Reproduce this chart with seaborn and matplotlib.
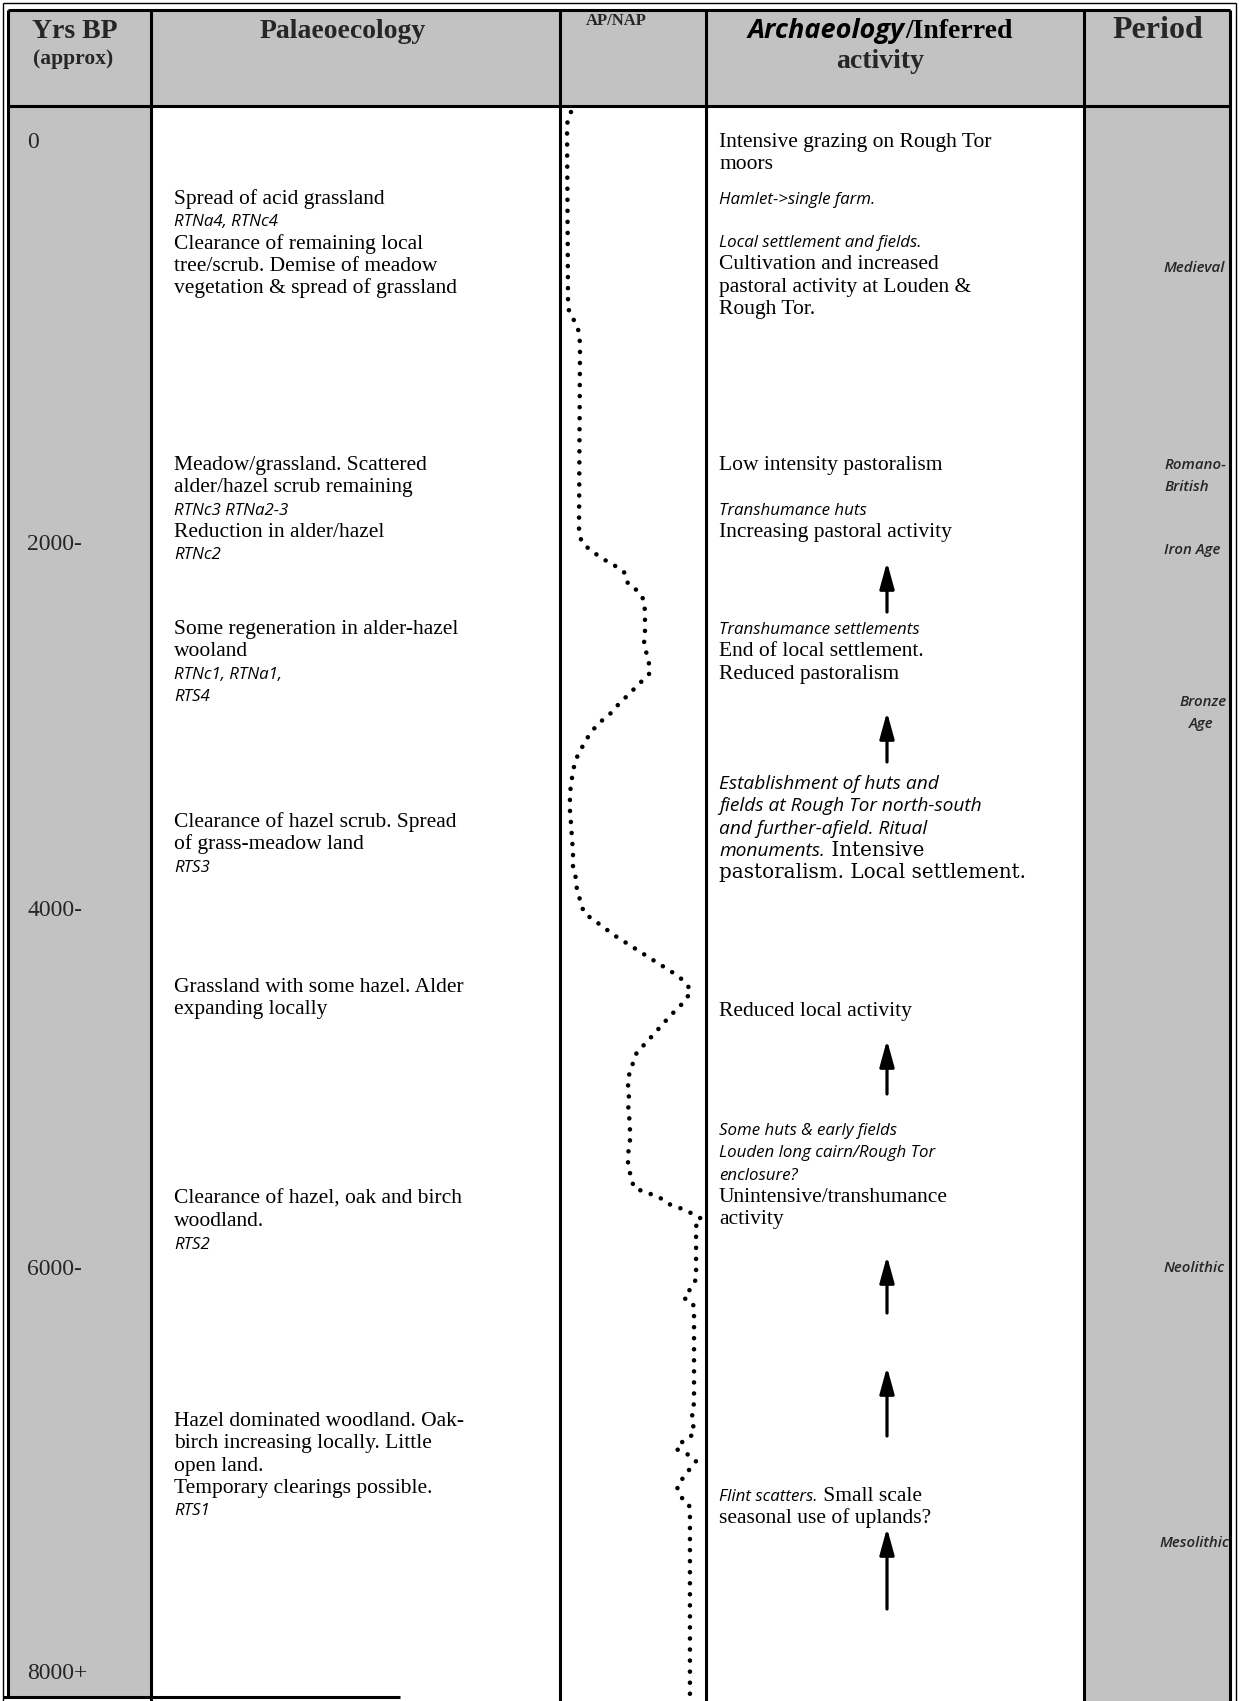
import matplotlib
matplotlib.use("Agg")
import matplotlib.pyplot as plt
import seaborn as sns
import pandas as pd

# ---------------------------------------------------------------- data
year_labels = ["0", "2000-", "4000-", "6000-", "8000+"]

period_labels = ["Medieval", "Romano-", "British", "Iron Age", "Bronze", "Age",
                 "Neolithic", "Mesolithic"]

# each line = list of (text, style) runs ; r = roman (serif), i = italic (sans)
palaeo_blocks = [
    [[("Spread of acid grassland", "r")],
     [("RTNa4, RTNc4", "i")],
     [("Clearance of remaining local", "r")],
     [("tree/scrub. Demise of meadow", "r")],
     [("vegetation & spread of grassland", "r")]],
    [[("Meadow/grassland. Scattered", "r")],
     [("alder/hazel scrub remaining", "r")],
     [("RTNc3 RTNa2-3", "i")],
     [("Reduction in alder/hazel", "r")],
     [("RTNc2", "i")]],
    [[("Some regeneration in alder-hazel", "r")],
     [("wooland", "r")],
     [("RTNc1, RTNa1,", "i")],
     [("RTS4", "i")]],
    [[("Clearance of hazel scrub. Spread", "r")],
     [("of grass-meadow land", "r")],
     [("RTS3", "i")]],
    [[("Grassland with some hazel. Alder", "r")],
     [("expanding locally", "r")]],
    [[("Clearance of hazel, oak and birch", "r")],
     [("woodland.", "r")],
     [("RTS2", "i")]],
    [[("Hazel dominated woodland. Oak-", "r")],
     [("birch increasing locally. Little", "r")],
     [("open land.", "r")],
     [("Temporary clearings possible.", "r")],
     [("RTS1", "i")]],
]

arch_blocks = [
    [[("Intensive grazing on Rough Tor", "r")],
     [("moors", "r")]],
    [[("Hamlet->single farm.", "i")]],
    [[("Local settlement and fields.", "i")],
     [("Cultivation and increased", "r")],
     [("pastoral activity at Louden &", "r")],
     [("Rough Tor.", "r")]],
    [[("Low intensity pastoralism", "r")]],
    [[("Transhumance huts", "i")],
     [("Increasing pastoral activity", "r")]],
    [[("Transhumance settlements", "i")],
     [("End of local settlement.", "r")],
     [("Reduced pastoralism", "r")]],
    [[("Establishment of huts and", "i")],
     [("fields at Rough Tor north-south", "i")],
     [("and further-afield. Ritual", "i")],
     [("monuments.", "i"), (" Intensive", "r")],
     [("pastoralism. Local settlement.", "r")]],
    [[("Reduced local activity", "r")]],
    [[("Some huts & early fields", "i")],
     [("Louden long cairn/Rough Tor", "i")],
     [("enclosure?", "i")],
     [("Unintensive/transhumance", "r")],
     [("activity", "r")]],
    [[("Flint scatters.", "i"), (" Small scale", "r")],
     [("seasonal use of uplands?", "r")]],
]

# AP/NAP pollen curve: age (yrs BP) and AP/NAP value (0-100)
ap_years = [-190, -127, 803, 866, 919, 971, 1035, 2043, 2091, 2133, 2170, 2202,
            2244, 2302, 2339, 2387, 2450, 2561, 2619, 2677, 2724, 2772, 2814,
            2862, 2904, 2946, 2994, 3031, 3078, 3126, 3184, 3237, 3295, 3358,
            3421, 3495, 3564, 3643, 3717, 3791, 3860, 3918, 3986, 4039, 4081,
            4124, 4166, 4203, 4240, 4277, 4314, 4351, 4393, 4446, 4498, 4541,
            4583, 4636, 4683, 4725, 4773, 4815, 4847, 4894, 4952, 5021,
            5085, 5143, 5253, 5311, 5370, 5433, 5491, 5512, 5539, 5576,
            5597, 5623, 5655, 5692, 5972, 6019, 6072, 6098, 6140, 6626, 6679,
            6732, 6790, 6822, 6869, 6895, 6933, 6980, 7022, 7070, 7128, 7160,
            7218, 8180]
ap_values = [7.5, 4.8, 5.5, 6.2, 10.3, 13.0, 13.7, 13.0, 15.8, 22.6, 29.5, 37.0,
             44.5, 46.6, 53.4, 57.5, 58.2, 58.2, 57.5, 59.6, 61.0, 61.6, 56.2,
             50.0, 44.5, 39.0, 33.6, 27.4, 21.9, 17.8, 13.7, 10.3, 8.9, 7.5,
             6.8, 6.8, 7.5, 8.2, 8.9, 8.9, 11.0, 11.6, 14.4, 16.4, 24.0,
             31.5, 39.0, 46.6, 54.1, 61.6, 69.2, 76.7, 84.2, 89.7, 86.3, 80.8,
             75.3, 69.2, 63.7, 58.9, 52.7, 50.7, 49.3, 47.3, 46.6, 47.3,
             46.6, 47.9, 47.9, 46.6, 46.6, 48.6, 50.7, 58.2, 67.8, 74.7,
             82.2, 89.7, 97.3, 93.2, 93.2, 89.7, 84.9, 91.1, 91.8, 91.8, 90.4,
             91.1, 91.8, 84.9, 79.5, 87.0, 93.2, 88.4, 84.2, 80.1, 83.6, 88.4,
             89.0, 89.0]

# ---------------------------------------------------------------- layout
W, H = 1240, 1701
X_L_OUT, X_L = 3, 8
X_YRS, X_PAL, X_AP, X_ARCH, X_R, X_R_OUT = 151, 560, 706, 1084, 1230, 1236
Y_T_OUT, Y_T, Y_HDR, Y_B = 3, 10, 106, 1697
SHADE = "#c2c2c2"
LW = 2.2

SERIF = "Liberation Serif"
ITAL = "Open Sans"
SZ_R, SZ_I = 15.5, 12.2
SZ_H = 20

palaeo_starts = [197, 463, 627, 820, 985, 1197, 1419]
arch_starts = [140, 197, 240, 463, 508, 627, 782, 1009, 1128, 1494]
WIDE_ARCH = {6}
line_gap = 22.3
year_y = [140, 542, 908, 1267, 1671]
period_pos = [(1164, 266), (1164, 463), (1164, 485), (1164, 548), (1179, 700),
              (1189, 722), (1164, 1266), (1160, 1541)]
arrows = [(562, 612), (712, 762), (1040, 1094), (1256, 1313), (1367, 1436), (1528, 1609)]
ARROW_X = 887

sns.set_theme(style="white")
plt.rcParams["font.family"] = [SERIF, "DejaVu Sans"]

fig = plt.figure(figsize=(W / 100, H / 100), dpi=100)
fig.patch.set_facecolor("white")
ax = fig.add_axes([0, 0, 1, 1])
ax.set_xlim(0, W)
ax.set_ylim(H, 0)
ax.axis("off")

# shaded cells
ax.add_patch(plt.Rectangle((X_L, Y_T), X_R - X_L, Y_HDR - Y_T, color=SHADE, lw=0))
ax.add_patch(plt.Rectangle((X_L, Y_HDR), X_YRS - X_L, Y_B - Y_HDR, color=SHADE, lw=0))
ax.add_patch(plt.Rectangle((X_ARCH, Y_HDR), X_R - X_ARCH, H - Y_HDR, color=SHADE, lw=0))

def hline(y, x0, x1, lw=LW):
    ax.plot([x0, x1], [y, y], color="black", lw=lw, solid_capstyle="butt")

def vline(x, y0, y1, lw=LW):
    ax.plot([x, x], [y0, y1], color="black", lw=lw, solid_capstyle="butt")

hline(Y_T_OUT, X_L_OUT, X_R_OUT, 1.0)
hline(Y_T, X_L, X_R)
hline(Y_HDR, X_L, X_R)
hline(Y_B, X_L_OUT, 400)
vline(X_L_OUT, Y_T_OUT, H, 1.0)
vline(X_L, Y_T, Y_B)
vline(X_R, Y_T, H)
vline(X_R_OUT, Y_T_OUT, H, 1.0)
for xv in (X_YRS, X_PAL, X_AP, X_ARCH):
    vline(xv, Y_T, H)

renderer = fig.canvas.get_renderer()

STYLE = {
    "r": dict(family=[SERIF, "DejaVu Sans"], size=SZ_R),
    "i": dict(family=[ITAL, "DejaVu Sans"], size=SZ_I, style="italic"),
    "R": dict(family=["DejaVu Serif"], size=14.3),
    "I": dict(family=[ITAL, "DejaVu Sans"], size=13.8, style="italic"),
    "b": dict(family=[SERIF, "DejaVu Sans"], size=SZ_H, weight="bold"),
    "bi": dict(family=[ITAL, "DejaVu Sans"], size=19.5, weight="bold", style="italic"),
}

def run_width(text, st):
    t = ax.text(0, 0, text, **STYLE[st])
    w = t.get_window_extent(renderer).width
    t.remove()
    return w

def put_runs(x, y, runs, center=False, wide=False):
    if wide:
        runs = [(tx, st.upper()) for tx, st in runs]
    if center:
        tot = sum(run_width(tx, st) for tx, st in runs)
        x = x - tot / 2
    for tx, st in runs:
        ax.text(x, y, tx, va="baseline", ha="left", color="black", **STYLE[st])
        x += run_width(tx, st)

def put_block(x, y0, lines, wide=False):
    for k, runs in enumerate(lines):
        put_runs(x, y0 + 7 + k * line_gap, runs, wide=wide)

# header
ax.text(75, 38, "Yrs BP", ha="center", va="baseline", **STYLE["b"])
ax.text(73, 64, "(approx)", ha="center", va="baseline",
        family=[SERIF], size=15.5, weight="bold")
ax.text(343, 38, "Palaeoecology", ha="center", va="baseline", **STYLE["b"])
ax.text(616, 25, "AP/NAP", ha="center", va="baseline", family=[SERIF], size=12, weight="bold")
put_runs(880, 38, [("Archaeology", "bi"), ("/Inferred", "b")], center=True)
ax.text(880, 68, "activity", ha="center", va="baseline", **STYLE["b"])
ax.text(1158, 38, "Period", ha="center", va="baseline", family=[SERIF],
        size=23, weight="bold")

# years
for lab, yy in zip(year_labels, year_y):
    ax.text(27, yy + 8, lab, ha="left", va="baseline", family=[SERIF], size=17)

# text blocks
for blk, y0 in zip(palaeo_blocks, palaeo_starts):
    put_block(174, y0, blk)
for k, (blk, y0) in enumerate(zip(arch_blocks, arch_starts)):
    put_block(719, y0, blk, wide=(k in WIDE_ARCH))

for lab, (px, py) in zip(period_labels, period_pos):
    ax.text(px, py + 6, lab, ha="left", va="baseline", family=[ITAL], size=10.8,
            style="italic", weight="semibold")

# arrows
for tip, base in arrows:
    ax.annotate("", xy=(ARROW_X, tip), xytext=(ARROW_X, base),
                arrowprops=dict(arrowstyle="-|>,head_length=0.8,head_width=0.22",
                                lw=2.3, color="black", mutation_scale=20,
                                shrinkA=0, shrinkB=0))

# AP/NAP curve
def px_to_yr(p):
    return (p - 148) / 0.1894

cax = fig.add_axes([X_PAL / W, 1 - Y_B / H, (X_AP - X_PAL) / W, (Y_B - Y_HDR) / H])
cax.patch.set_alpha(0)
cax.axis("off")
df = pd.DataFrame({"age": ap_years, "apnap": ap_values})
sns.lineplot(data=df, x="apnap", y="age", sort=False, estimator=None, ax=cax,
             color="black", lw=3.3)
ln = cax.lines[-1]
ln.set_linestyle((0, (0.01, 2.4)))
ln.set_dash_capstyle("round")
cax.set_xlim(0, 100)
cax.set_ylim(px_to_yr(Y_B), px_to_yr(Y_HDR))

fig.savefig("out.png", dpi=100, facecolor="white")
